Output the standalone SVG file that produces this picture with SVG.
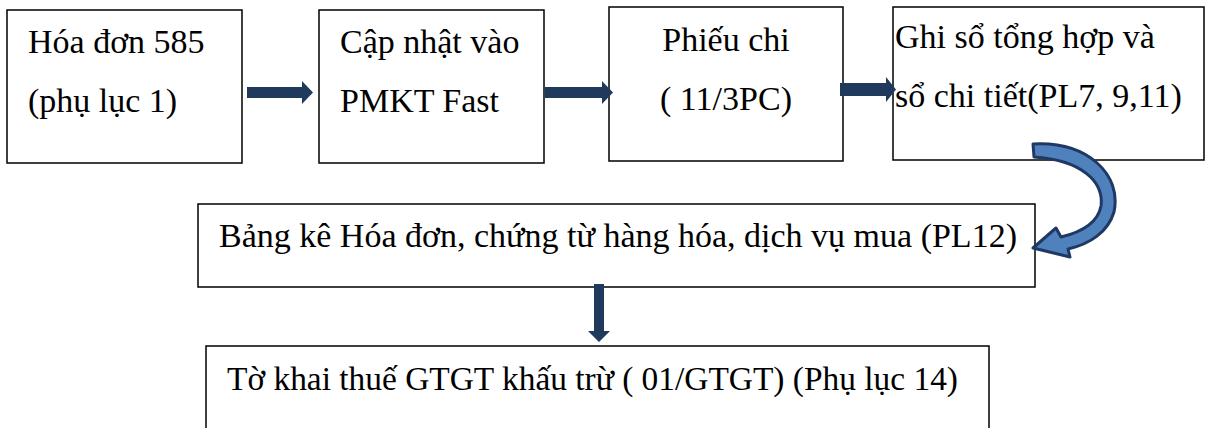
<svg xmlns="http://www.w3.org/2000/svg" width="1207" height="428" viewBox="0 0 1207 428">
<style>
.box{fill:#ffffff;stroke:#000000;stroke-width:1.5}
.t{font-family:"Liberation Serif","Times New Roman",serif;font-size:34px;fill:#000000}
.arr{fill:#203a5e;stroke:none}
.curve{fill:#4f81bd;stroke:#1f3864;stroke-width:3;stroke-linejoin:round}
</style>
<rect width="1207" height="428" fill="#ffffff"/>
<g id="node-hoadon">
<rect class="box" x="7" y="10" width="235" height="153"/>
<text class="t" x="28" y="53">Hóa đơn 585</text>
<text class="t" x="28" y="112">(phụ lục 1)</text>
</g>
<g id="node-capnhat">
<rect class="box" x="319" y="10" width="225" height="153"/>
<text class="t" x="340" y="53">Cập nhật vào</text>
<text class="t" x="340" y="112">PMKT Fast</text>
</g>
<g id="node-phieuchi">
<rect class="box" x="609" y="7" width="234" height="154"/>
<text class="t" x="726" y="51" text-anchor="middle">Phiếu chi</text>
<text class="t" x="726" y="110" text-anchor="middle">( 11/3PC)</text>
</g>
<g id="node-ghiso">
<rect class="box" x="893" y="7" width="311" height="153"/>
<text class="t" x="895" y="48">Ghi sổ tổng hợp và</text>
<text class="t" x="895" y="107">sổ chi tiết(PL7, 9,11)</text>
</g>
<g id="node-bangke">
<rect class="box" x="198" y="204" width="837" height="83"/>
<text class="t" x="219" y="247">Bảng kê Hóa đơn, chứng từ hàng hóa, dịch vụ mua (PL12)</text>
</g>
<g id="node-tokhai">
<rect class="box" x="206" y="346" width="783" height="110"/>
<text class="t" x="227" y="390" textLength="731" lengthAdjust="spacingAndGlyphs">Tờ khai thuế GTGT khấu trừ ( 01/GTGT) (Phụ lục 14)</text>
</g>
<g id="connectors">
<polygon class="arr" points="247,87 302,87 302,81 313,92.5 302,104 302,98 247,98"/>
<polygon class="arr" points="545,87 602,87 602,81 613,92.5 602,104 602,98 545,98"/>
<polygon class="arr" points="840,83 886,83 886,77 896,89.5 886,102 886,96 840,96"/>
<polygon class="arr" points="594,284 604,284 604,331 610,331 599,342 588,331 594,331"/>
<path class="curve" d="M 1033 144 C 1088 141, 1122 175, 1114 212 C 1108 232, 1090 244, 1068 249 L 1070 257 L 1033 248 L 1056 228 L 1061 237 C 1082 232, 1098 222, 1101 206 C 1104 182, 1082 160, 1034 157 Z"/>
</g>
</svg>
